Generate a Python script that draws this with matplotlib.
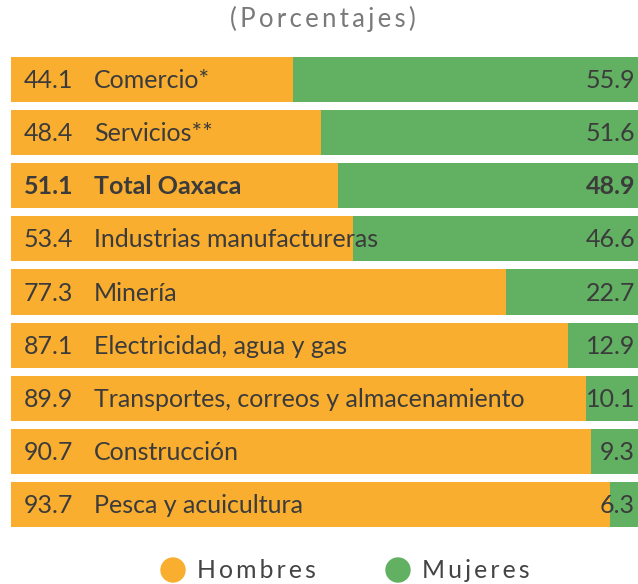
import matplotlib
matplotlib.use('Agg')
import matplotlib.pyplot as plt

# data (percent by sector)
categories = ['Comercio*', 'Servicios**', 'Total Oaxaca', 'Industrias manufactureras',
              'Minería', 'Electricidad, agua y gas', 'Transportes, correos y almacenamiento',
              'Construcción', 'Pesca y acuicultura']
hombres = [44.1, 48.4, 51.1, 53.4, 77.3, 87.1, 89.9, 90.7, 93.7]
mujeres = [55.9, 51.6, 48.9, 46.6, 22.7, 12.9, 10.1, 9.3, 6.3]
bold_row = 'Total Oaxaca'

ORANGE = '#F9AE2F'
GREEN = '#62B062'
TXT = '#3b3b3b'
FONT = ['Lato', 'DejaVu Sans']
plt.rcParams['font.family'] = FONT

W, H = 638, 584
fig = plt.figure(figsize=(W / 100, H / 100), dpi=100)
ax = fig.add_axes([11 / W, (H - 527) / H, 627 / W, 470 / H])

y = list(range(len(categories)))
bh = 0.85
ax.barh(y, hombres, height=bh, color=ORANGE, linewidth=0)
ax.barh(y, mujeres, left=hombres, height=bh, color=GREEN, linewidth=0)
ax.set_xlim(0, 98)
ax.set_ylim(len(categories) - 1 + bh / 2, -bh / 2)
ax.axis('off')

fs = 18
tr = ax.get_yaxis_transform()
for i, (cat, h, m) in enumerate(zip(categories, hombres, mujeres)):
    fw = 'bold' if cat == bold_row else 'normal'
    ax.text(13 / 627, i + 0.02, f'{h:.1f}', transform=tr, ha='left', va='center',
            fontsize=fs, color=TXT, fontweight=fw)
    ax.text(83 / 627, i + 0.02, cat, transform=tr, ha='left', va='center',
            fontsize=fs, color=TXT, fontweight=fw)
    ax.text(624 / 627, i + 0.02, f'{m:.1f}', transform=tr, ha='right', va='center',
            fontsize=fs, color=TXT, fontweight=fw)

sp = '\u2009'
fig.text(323 / W, 1 - 19 / H, sp.join('(Porcentajes)'), ha='center', va='center',
         fontsize=18.5, color='#7a7a7a')

# legend
for xc, lab, col in [(173, 'Hombres', ORANGE), (398, 'Mujeres', GREEN)]:
    fig.patches.append(matplotlib.patches.Ellipse((xc / W, 1 - 570 / H), 24 / W, 24 / H,
                                                  transform=fig.transFigure, color=col))
    fig.text((xc + 24) / W, 1 - 571 / H, sp.join(lab), ha='left', va='center',
             fontsize=17.8, color='#444444')

fig.savefig('out.png', dpi=100, facecolor='white')
